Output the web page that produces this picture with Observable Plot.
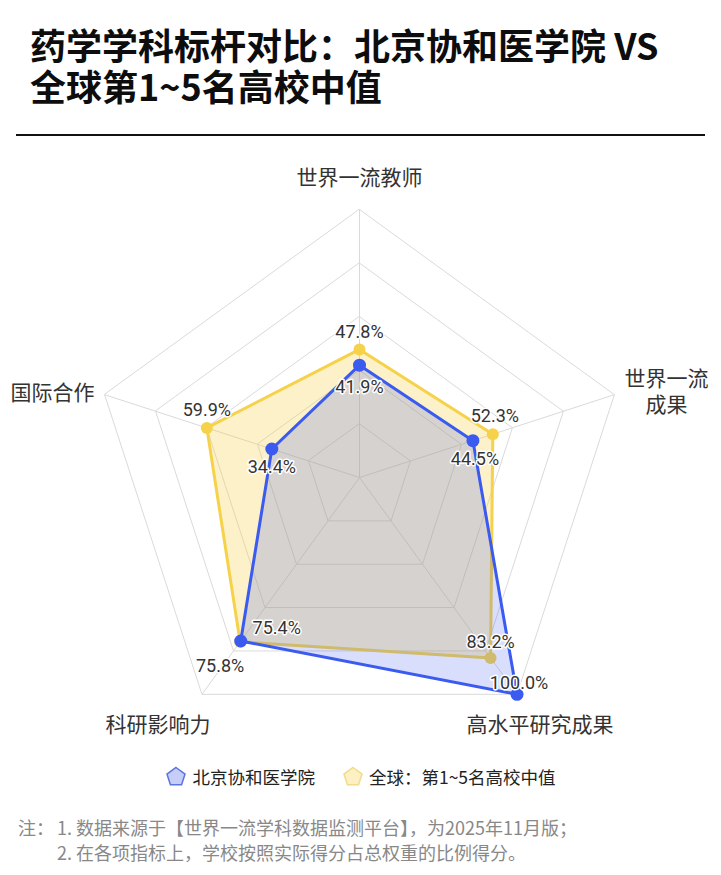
<!DOCTYPE html>
<html><head><meta charset="utf-8">
<script src="https://cdn.jsdelivr.net/npm/d3@7"></script>
<script src="https://cdn.jsdelivr.net/npm/@observablehq/plot@0.6"></script>
<style>
body{margin:0;background:#fff;font-family:"Noto Sans CJK SC","Noto Sans",sans-serif;color:#111;width:721px;height:875px;position:relative;overflow:hidden}
.tl{position:absolute;left:30px;font-size:36px;font-weight:700;line-height:41px;height:41px;margin:0;color:#0d0d0d;white-space:nowrap}
#rule{position:absolute;left:16px;top:134px;width:689px;height:2px;background:#111}
#chart{position:absolute;left:0;top:140px}
#legend{position:absolute;top:762px;left:0;width:721px;display:flex;justify-content:center;align-items:center;gap:27px;font-size:17.5px;color:#222;height:28px}
.item{display:flex;align-items:center;gap:5px}
.nl{position:absolute;left:57px;font-size:18px;color:#888;line-height:25px;white-space:nowrap}
#notelab{position:absolute;left:18px;top:815px;font-size:18px;color:#888;line-height:25px}
</style></head>
<body>
<div class="tl" style="top:24px">药学学科标杆对比：北京协和医学院 VS</div>
<div class="tl" style="top:65px">全球第1~5名高校中值</div>
<div id="rule"></div>
<div id="chart"></div>
<div id="legend"></div>
<div id="notelab">注：</div>
<div class="nl" style="top:815px">1. 数据来源于【世界一流学科数据监测平台】，为2025年11月版；</div>
<div class="nl" style="top:840px">2. 在各项指标上，学校按照实际得分占总权重的比例得分。</div>
<script>
// ---- data ----
const axesNames = ["世界一流教师", "世界一流成果", "高水平研究成果", "科研影响力", "国际合作"];
const pumcValues = [41.9, 44.5, 100.0, 75.4, 34.4];
const globalValues = [47.8, 52.3, 83.2, 75.8, 59.9];
const seriesNames = ["北京协和医学院", "全球：第1~5名高校中值"];
const gridLevels = [20, 40, 60, 80, 100];
const maxValue = 100;

// ---- styling ----
const blue = "#3a5af0", yellow = "#f5d24a", gridColor = "#dadada";
const cx = 359, cy = 337, R = 268, W = 721, H = 615;
// label lines per axis with offsets from the outer vertex
const axisLabelStyle = [
  [{dx: 0, dy: -31, anchor: "middle", text: "世界一流教师"}],
  [{dx: 52, dy: -15, anchor: "middle", text: "世界一流"}, {dx: 52, dy: 11, anchor: "middle", text: "成果"}],
  [{dx: 23, dy: 31, anchor: "middle"}],
  [{dx: -44, dy: 31, anchor: "middle"}],
  [{dx: -10, dy: -1, anchor: "end"}]
];
const labelOffsets = {
  [seriesNames[1]]: [[0,-17],[2,-18],[0,-16],[-20,24],[0,-18]],
  [seriesNames[0]]: [[0,22],[2,19],[2,-11],[36,-13],[0,18]]
};

const angle = i => i * 2 * Math.PI / axesNames.length;
const px = (i, v) => Math.sin(angle(i)) * v / maxValue;
const py = (i, v) => Math.cos(angle(i)) * v / maxValue;

const rows = s => (s === 0 ? pumcValues : globalValues).map((v, i) => ({series: seriesNames[s], axis: axesNames[i], i, value: v}));
const pumcRows = rows(0), globalRows = rows(1);
const ringRows = gridLevels.flatMap(l => axesNames.map((a, i) => ({level: l, i})));

const X = d => px(d.i, d.value), Y = d => py(d.i, d.value);

const marks = [
  Plot.line(ringRows, {x: d => px(d.i, d.level), y: d => py(d.i, d.level), z: "level", curve: "linear-closed", stroke: gridColor, strokeWidth: 1}),
  Plot.link(axesNames.map((a, i) => ({i})), {x1: () => 0, y1: () => 0, x2: d => px(d.i, maxValue), y2: d => py(d.i, maxValue), stroke: gridColor, strokeWidth: 1}),
  Plot.line(globalRows, {x: X, y: Y, curve: "linear-closed", fill: yellow, fillOpacity: 0.3, stroke: yellow, strokeWidth: 3}),
  Plot.dot(globalRows, {x: X, y: Y, r: 6, fill: yellow}),
  Plot.line(pumcRows, {x: X, y: Y, curve: "linear-closed", fill: blue, fillOpacity: 0.2, stroke: "none"}),
  Plot.line(pumcRows, {x: X, y: Y, curve: "linear-closed", fill: "none", stroke: blue, strokeWidth: 3}),
  Plot.dot(pumcRows, {x: X, y: Y, r: 6.5, fill: blue})
];
for (const d of [...globalRows, ...pumcRows]) {
  const [dx, dy] = labelOffsets[d.series][d.i];
  marks.push(Plot.text([d], {x: X, y: Y, text: d => d.value.toFixed(1) + "%", dx, dy,
    fill: "#333", stroke: "white", strokeWidth: 3, fontSize: 18, fontFamily: "Roboto, 'Noto Sans', sans-serif"}));
}
axesNames.forEach((name, i) => {
  for (const st of axisLabelStyle[i]) {
    marks.push(Plot.text([{i}], {x: d => px(d.i, maxValue), y: d => py(d.i, maxValue), text: () => st.text || name,
      dx: st.dx, dy: st.dy, textAnchor: st.anchor, lineAnchor: "middle",
      fill: "#333", fontSize: 21, fontFamily: "'Noto Sans CJK SC', sans-serif"}));
  }
});

const chart = Plot.plot({
  width: W, height: H, margin: 0,
  x: {domain: [-1, 1], range: [cx - R, cx + R], axis: null},
  y: {domain: [-1, 1], range: [cy + R, cy - R], axis: null},
  marks
});
document.getElementById("chart").appendChild(chart);

// legend
const pent = (fill, stroke) => {
  const pts = d3.range(5).map(k => {const a = k * 2 * Math.PI / 5; return [11 + 9.5 * Math.sin(a), 12 - 9.5 * Math.cos(a)].join(",");}).join(" ");
  return `<svg width="22" height="22"><polygon points="${pts}" fill="${fill}" stroke="${stroke}" stroke-width="1.5"/></svg>`;
};
const legendStyles = [["#c6cef7", "#5d74dd"], ["#fdf0c2", "#f0dc8c"]];
document.getElementById("legend").innerHTML = seriesNames.map((n, k) =>
  `<div class="item">${pent(...legendStyles[k])}<span>${n}</span></div>`).join("");
</script>
</body></html>
